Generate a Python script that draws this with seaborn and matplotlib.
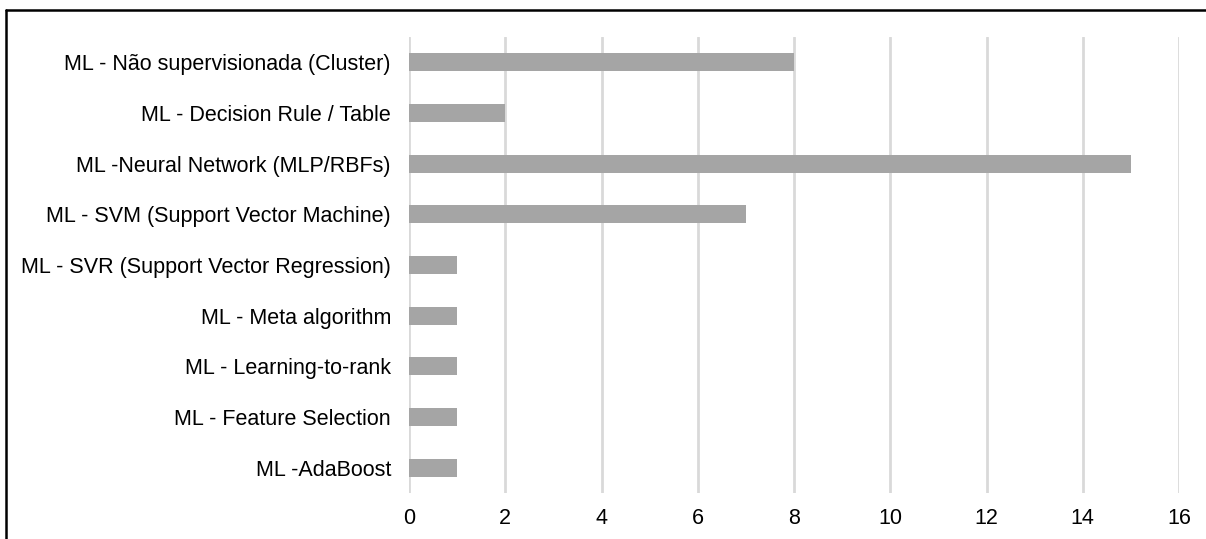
import matplotlib
matplotlib.use("Agg")
import matplotlib.pyplot as plt
import seaborn as sns
import pandas as pd
from matplotlib.lines import Line2D

categories = [
    "ML - Não supervisionada (Cluster)",
    "ML - Decision Rule / Table",
    "ML -Neural Network (MLP/RBFs)",
    "ML - SVM (Support Vector Machine)",
    "ML - SVR (Support Vector Regression)",
    "ML - Meta algorithm",
    "ML - Learning-to-rank",
    "ML - Feature Selection",
    "ML -AdaBoost",
]
counts = [8, 2, 15, 7, 1, 1, 1, 1, 1]
x_ticks = [0, 2, 4, 6, 8, 10, 12, 14, 16]

sns.set_theme(style="white")
plt.rcParams["font.family"] = ["Liberation Sans", "DejaVu Sans"]

df = pd.DataFrame({"tecnica": categories, "qtd": counts})

fig = plt.figure(figsize=(12.06, 5.39), dpi=100)
ax = fig.add_axes([409 / 1206, 1 - 493 / 539, (1179 - 409) / 1206, (493 - 37) / 539])

sns.barplot(data=df, y="tecnica", x="qtd", orient="h", color="#A5A5A5",
            saturation=1, width=0.36, linewidth=0, ax=ax, zorder=3)

ax.set_xlim(0, 16)
ax.set_ylim(8.5, -0.5)
ax.set_xticks(x_ticks)
ax.set_xticklabels([str(t) for t in x_ticks])
ax.xaxis.grid(True, color="#D9D9D9", linewidth=2, zorder=0)
ax.yaxis.grid(False)
for s in ax.spines.values():
    s.set_visible(False)
ax.set_xlabel("")
ax.set_ylabel("")
ax.tick_params(axis="y", length=0, pad=13, labelsize=15.5, labelcolor="#000000")
ax.tick_params(axis="x", length=0, pad=11, labelsize=15.5, labelcolor="#000000")

# Frame lines along the top and left edges of the figure
fig.add_artist(Line2D([6 / 1206, 1.0], [1 - 10 / 539, 1 - 10 / 539],
                      transform=fig.transFigure, color="black", linewidth=1.8))
fig.add_artist(Line2D([6 / 1206, 6 / 1206], [0.0, 1 - 10 / 539],
                      transform=fig.transFigure, color="black", linewidth=1.8))

fig.savefig("out.png", dpi=100, facecolor="white")
